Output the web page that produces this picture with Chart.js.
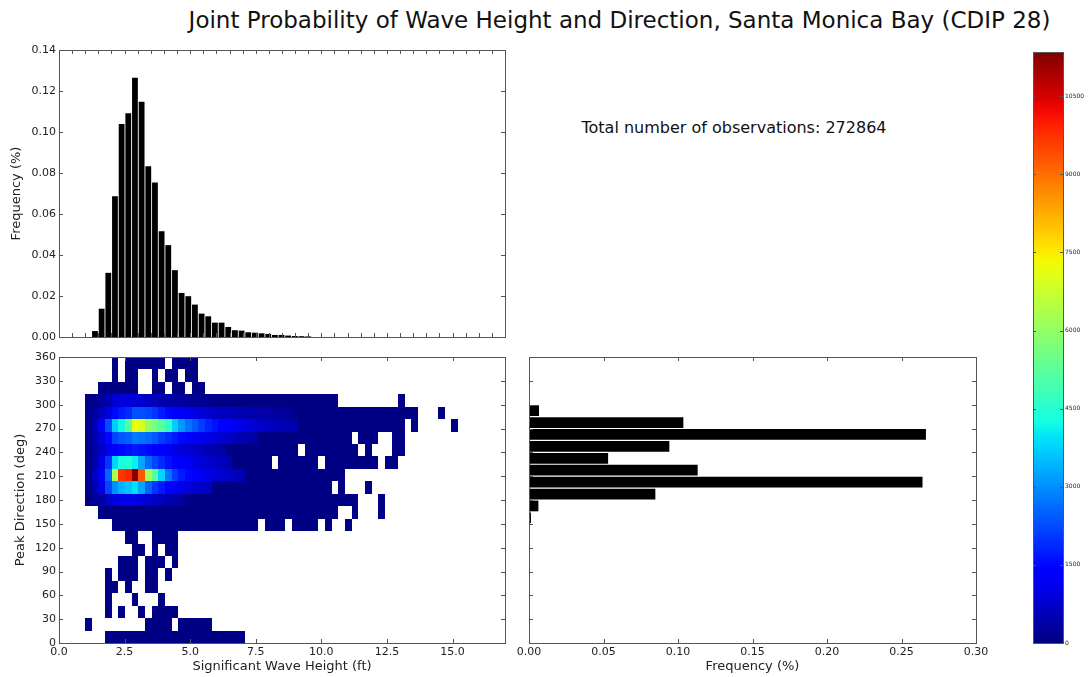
<!DOCTYPE html>
<html>
<head>
<meta charset="utf-8">
<script src="https://cdn.jsdelivr.net/npm/chart.js@4"></script>
<style>
  body { margin: 0; background: #fff; }
  #wrap { position: relative; width: 1089px; height: 677px; font-family: "DejaVu Sans", sans-serif; color: #111; }
  canvas { position: absolute; left: 0; top: 0; }
  #title { position: absolute; left: 0; top: 6px; width: 1239px; text-align: center; font-size: 23px; line-height: 28px; }
  #total { position: absolute; left: 0; top: 118px; width: 1468px; text-align: center; font-size: 16px; line-height: 20px; }
</style>
</head>
<body>
<div id="wrap">
  <div id="title">Joint Probability of Wave Height and Direction, Santa Monica Bay (CDIP 28)</div>
  <div id="total">Total number of observations: 272864</div>
  <canvas id="histTop" width="1089" height="677"></canvas>
  <canvas id="heat" width="1089" height="677"></canvas>
  <canvas id="histRight" width="1089" height="677"></canvas>
  <canvas id="cbar" width="1089" height="677"></canvas>
</div>
<script>
// wave height bins (ft) - same bins for the histogram and the 2d map
var heightStart = 0.99;
var heightStep = 0.254;
// frequency for bins 1,2,3... (bin 0 is ~0)
var heightFreq = [0.0029, 0.0138, 0.0313, 0.0687, 0.1039, 0.1091, 0.1265, 0.1148, 0.0833, 0.0754,
  0.0516, 0.0448, 0.0326, 0.0215, 0.0199, 0.0158, 0.0114, 0.0101, 0.0070, 0.0070,
  0.0049, 0.0033, 0.0031, 0.0023, 0.0021, 0.0018, 0.0015, 0.0010, 0.0010, 0.0007,
  0.0005, 0.0004, 0.0003];

// direction histogram (15 deg bins, centres)
var dirCenters = [307.5, 292.5, 277.5, 262.5, 247.5, 232.5, 217.5, 202.5, 187.5, 172.5, 157.5, 142.5];
var dirFreq = [0.0005, 0.0067, 0.1036, 0.2664, 0.0942, 0.0531, 0.1132, 0.2641, 0.0848, 0.0063, 0.0013, 0.0004];

// 2d map: 23 direction rows, row 0 = top (360 deg)
var dirRowCount = 23;
var countMax = 11350;
var baseCount = 40;
var cbarTicks = [0, 1500, 3000, 4500, 6000, 7500, 9000, 10500];
// filled columns per row [from, to]
var cellSpans = [
  [[4, 4], [6, 11], [13, 16]],
  [[4, 4], [6, 7], [10, 10], [12, 13], [15, 16]],
  [[2, 7], [10, 11], [13, 14], [16, 17]],
  [[0, 37], [47, 47]],
  [[0, 49], [53, 53]],
  [[0, 47], [49, 49], [55, 55]],
  [[0, 39], [41, 43], [46, 47]],
  [[0, 31], [33, 40], [42, 42], [46, 47]],
  [[0, 27], [29, 34], [36, 43], [45, 46]],
  [[0, 38]],
  [[0, 36], [38, 38], [42, 42]],
  [[0, 40], [44, 44]],
  [[2, 37], [40, 40], [44, 44]],
  [[4, 25], [27, 29], [31, 34], [36, 36], [39, 39]],
  [[6, 7], [10, 13]],
  [[7, 8], [10, 10], [12, 13]],
  [[5, 7], [9, 11], [13, 13]],
  [[3, 3], [5, 7], [9, 10], [12, 12]],
  [[3, 4], [6, 6], [9, 10]],
  [[3, 3], [7, 7], [11, 11]],
  [[3, 3], [5, 5], [8, 8], [10, 13]],
  [[0, 0], [9, 12], [14, 18]],
  [[3, 23]]
];
// counts from column 0 for the busy rows
var peakRows = [3, 4, 5, 6, 7, 8, 9, 10, 11];
var peakCounts = [
  [60, 150, 300, 500, 800, 900, 900, 850, 800, 700, 600, 500, 400, 350, 300, 250, 200, 180, 150, 130, 110, 100],
  [100, 300, 600, 1000, 1500, 1700, 1900, 2300, 2300, 2200, 2000, 1700, 1500, 1300, 1200, 1100, 1000, 900, 800, 700, 650, 600, 550, 500, 450, 400, 380, 350, 300, 280, 250],
  [150, 500, 1200, 2300, 3700, 4200, 5200, 7200, 7000, 6000, 5600, 5200, 4600, 3700, 3100, 2700, 2400, 2100, 1800, 1600, 1400, 1250, 1100, 1000, 900, 800, 700, 650, 600, 550, 500, 450],
  [100, 400, 900, 1500, 2200, 2400, 2500, 2800, 2700, 2600, 2400, 2100, 1900, 1700, 1500, 1350, 1200, 1100, 1000, 900, 800, 700, 600, 500, 450, 400],
  [80, 300, 700, 1100, 1400, 1500, 1600, 1700, 1600, 1500, 1400, 1300, 1150, 1000, 900, 800, 700, 600, 500, 450, 400],
  [100, 400, 1000, 2000, 3800, 4300, 4400, 4100, 3300, 2600, 2200, 1900, 1600, 1400, 1200, 1100, 1000, 900, 800, 700, 600, 500],
  [150, 600, 1300, 2600, 6300, 9700, 9900, 11300, 9300, 6200, 5200, 3800, 2700, 2100, 1700, 1500, 1300, 1150, 1000, 900, 800, 700, 600, 500],
  [100, 400, 1000, 2200, 3000, 3400, 3600, 3900, 3300, 2500, 2000, 1700, 1400, 1200, 1000, 900, 800, 700, 600],
  [60, 200, 400, 700, 900, 1000, 1000, 1000, 900, 800, 700, 600, 500, 400, 300]
];

Chart.defaults.font.family = "'DejaVu Sans', sans-serif";
Chart.defaults.color = '#222';

function jet(t) {
  t = Math.max(0, Math.min(1, t));
  function interp(pts) {
    for (var i = 1; i < pts.length; i++) {
      if (t <= pts[i][0]) {
        var a = pts[i - 1], b = pts[i];
        return a[1] + (b[1] - a[1]) * (t - a[0]) / (b[0] - a[0]);
      }
    }
    return pts[pts.length - 1][1];
  }
  var r = interp([[0, 0], [0.35, 0], [0.66, 1], [0.89, 1], [1, 0.5]]);
  var g = interp([[0, 0], [0.125, 0], [0.375, 1], [0.64, 1], [0.91, 0], [1, 0]]);
  var b = interp([[0, 0.5], [0.11, 1], [0.34, 1], [0.65, 0], [1, 0]]);
  return 'rgb(' + Math.round(r * 255) + ',' + Math.round(g * 255) + ',' + Math.round(b * 255) + ')';
}

// box round the plot area + matplotlib style inward ticks
var framePlugin = {
  id: 'frame',
  afterDraw: function (chart, args, opts) {
    var a = chart.chartArea, ctx = chart.ctx, len = opts.len || 4;
    ctx.save();
    ctx.strokeStyle = '#555';
    ctx.lineWidth = 1;
    ctx.strokeRect(Math.round(a.left) + 0.5, Math.round(a.top) + 0.5, Math.round(a.right - a.left), Math.round(a.bottom - a.top));
    ctx.beginPath();
    var xs = chart.scales.x, ys = chart.scales.y;
    if (xs && opts.x !== false) {
      xs.ticks.forEach(function (t) {
        var p = Math.round(xs.getPixelForValue(t.value)) + 0.5;
        ctx.moveTo(p, a.bottom); ctx.lineTo(p, a.bottom - len);
        ctx.moveTo(p, a.top); ctx.lineTo(p, a.top + len);
      });
    }
    if (ys && opts.y !== false) {
      ys.ticks.forEach(function (t) {
        var p = Math.round(ys.getPixelForValue(t.value)) + 0.5;
        ctx.moveTo(a.left, p); ctx.lineTo(a.left + len, p);
        ctx.moveTo(a.right, p); ctx.lineTo(a.right - len, p);
      });
    }
    ctx.stroke();
    ctx.restore();
  }
};

var heatPlugin = {
  id: 'heatcells',
  beforeDatasetsDraw: function (chart) {
    var ctx = chart.ctx, xs = chart.scales.x, ys = chart.scales.y;
    var rowH = 360 / dirRowCount;
    ctx.save();
    for (var r = 0; r < cellSpans.length; r++) {
      var top = Math.round(ys.getPixelForValue(360 - r * rowH));
      var bot = Math.round(ys.getPixelForValue(360 - (r + 1) * rowH));
      var k = peakRows.indexOf(r);
      var counts = k >= 0 ? peakCounts[k] : null;
      cellSpans[r].forEach(function (sp) {
        for (var c = sp[0]; c <= sp[1]; c++) {
          var v = (counts && counts[c] != null) ? counts[c] : baseCount;
          var x0 = Math.round(xs.getPixelForValue(heightStart + c * heightStep));
          var x1 = Math.round(xs.getPixelForValue(heightStart + (c + 1) * heightStep));
          ctx.fillStyle = jet(v / countMax);
          ctx.fillRect(x0, top, x1 - x0, bot - top);
        }
      });
    }
    ctx.restore();
  }
};

var cbarPlugin = {
  id: 'cbarfill',
  beforeDatasetsDraw: function (chart) {
    var a = chart.chartArea, ctx = chart.ctx;
    var grad = ctx.createLinearGradient(0, a.bottom, 0, a.top);
    for (var i = 0; i <= 40; i++) grad.addColorStop(i / 40, jet(i / 40));
    ctx.save();
    ctx.fillStyle = grad;
    ctx.fillRect(a.left, a.top, a.right - a.left, a.bottom - a.top);
    ctx.restore();
  }
};

var tickFont = { size: 11 };
var titleFont = { size: 13 };

// top histogram
var topData = heightFreq.map(function (f, i) {
  return { x: heightStart + (i + 1.5) * heightStep, y: f };
});
new Chart(document.getElementById('histTop'), {
  type: 'bar',
  data: { datasets: [{ data: topData, backgroundColor: '#000', barPercentage: 0.87, categoryPercentage: 1 }] },
  options: {
    responsive: false, animation: false,
    layout: { padding: { left: 0, top: 50, right: 584, bottom: 340 } },
    plugins: { legend: { display: false }, tooltip: { enabled: false }, frame: { len: 4 } },
    scales: {
      x: {
        type: 'linear', min: 0, max: 17, offset: false,
        ticks: { display: false, stepSize: 0.5 },
        grid: { display: false, offset: false, drawTicks: false }, border: { display: false },
        afterFit: function (s) { s.height = 0; }
      },
      y: {
        min: 0, max: 0.14,
        ticks: { stepSize: 0.02, font: tickFont, padding: 3, callback: function (v) { return v.toFixed(2); } },
        grid: { display: false, drawTicks: false }, border: { display: false },
        title: { display: true, text: 'Frequency (%)', font: titleFont, padding: { top: 9, bottom: 0 } },
        afterFit: function (s) { s.width = 59; }
      }
    }
  },
  plugins: [framePlugin]
});

// joint distribution
new Chart(document.getElementById('heat'), {
  type: 'scatter',
  data: { datasets: [] },
  options: {
    responsive: false, animation: false,
    layout: { padding: { left: 0, top: 357, right: 584, bottom: 0 } },
    plugins: { legend: { display: false }, tooltip: { enabled: false }, frame: { len: 4 } },
    scales: {
      x: {
        type: 'linear', min: 0, max: 17,
        ticks: { stepSize: 2.5, includeBounds: false, font: tickFont, padding: 3, maxRotation: 0, callback: function (v) { return v.toFixed(1); } },
        grid: { display: false, drawTicks: false }, border: { display: false },
        title: { display: true, text: 'Significant Wave Height (ft)', font: titleFont, padding: { top: 0, bottom: 3 } },
        afterFit: function (s) { s.height = 34; }
      },
      y: {
        type: 'linear', min: 0, max: 360,
        ticks: { stepSize: 30, font: tickFont, padding: 3 },
        grid: { display: false, drawTicks: false }, border: { display: false },
        title: { display: true, text: 'Peak Direction (deg)', font: titleFont, padding: { top: 13, bottom: 0 } },
        afterFit: function (s) { s.width = 59; }
      }
    }
  },
  plugins: [heatPlugin, framePlugin]
});

// direction histogram
var rightData = dirFreq.map(function (f, i) { return { x: f, y: dirCenters[i] }; });
new Chart(document.getElementById('histRight'), {
  type: 'bar',
  data: { datasets: [{ data: rightData, backgroundColor: '#000', barPercentage: 0.9, categoryPercentage: 1 }] },
  options: {
    indexAxis: 'y',
    responsive: false, animation: false,
    layout: { padding: { left: 529, top: 357, right: 113, bottom: 0 } },
    plugins: { legend: { display: false }, tooltip: { enabled: false }, frame: { len: 4 } },
    scales: {
      x: {
        type: 'linear', min: 0, max: 0.30,
        ticks: { stepSize: 0.05, font: tickFont, padding: 3, maxRotation: 0, callback: function (v) { return v.toFixed(2); } },
        grid: { display: false, drawTicks: false }, border: { display: false },
        title: { display: true, text: 'Frequency (%)', font: titleFont, padding: { top: 0, bottom: 3 } },
        afterFit: function (s) { s.height = 34; }
      },
      y: {
        type: 'linear', min: 0, max: 360, offset: false,
        ticks: { display: false, stepSize: 30 },
        grid: { display: false, offset: false, drawTicks: false }, border: { display: false },
        afterFit: function (s) { s.width = 0; }
      }
    }
  },
  plugins: [framePlugin]
});

// colour bar
new Chart(document.getElementById('cbar'), {
  type: 'scatter',
  data: { datasets: [] },
  options: {
    responsive: false, animation: false,
    layout: { padding: { left: 1033, top: 52, right: 0, bottom: 34 } },
    plugins: { legend: { display: false }, tooltip: { enabled: false }, frame: { len: 3, x: false } },
    scales: {
      x: { display: false, min: 0, max: 1 },
      y: {
        position: 'right', min: 0, max: countMax,
        afterBuildTicks: function (s) { s.ticks = cbarTicks.map(function (v) { return { value: v }; }); },
        ticks: { font: { size: 6 }, padding: 2, callback: function (v) { return String(v); } },
        grid: { display: false, drawTicks: false }, border: { display: false },
        afterFit: function (s) { s.width = 26; }
      }
    }
  },
  plugins: [cbarPlugin, framePlugin]
});
</script>
</body>
</html>
